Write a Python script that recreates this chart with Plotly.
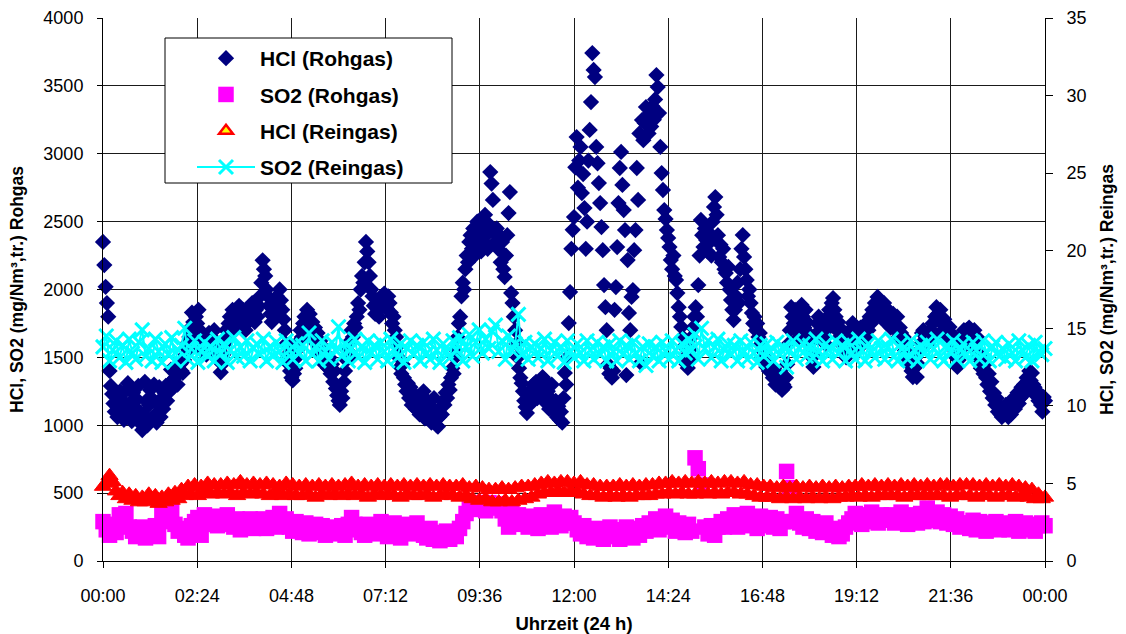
import pandas as pd
import plotly.graph_objects as go

# ---------------- data ----------------
# HCl Rohgas, mg/Nm3 (left axis), one value every 2 minutes, 00:00 ... 24:00
hcl_rohgas = [
    # 00
    2350, 2180, 2020, 1900, 1800, 1400, 1290, 1230, 1160, 1100, 1210, 1060, 1150, 1250, 1080,
    1180, 1040, 1120, 1260, 1310, 1090, 1170, 1030, 1240, 1120, 1060, 1190, 1290, 1100, 1010,
    # 01
    965, 1080, 1320, 1180, 1000, 1150, 1260, 1050, 1190, 1300, 1080, 1020, 1150, 1280, 1060,
    1200, 1120, 1240, 1290, 1180, 1300, 1250, 1410, 1330, 1280, 1350, 1420, 1300, 1380, 1450,
    # 02
    1400, 1385, 1480, 1520, 1600, 1560, 1650, 1720, 1830, 1760, 1700, 1800, 1750, 1850, 1700,
    1620, 1560, 1650, 1600, 1520, 1580, 1680, 1620, 1550, 1640, 1700, 1600, 1520, 1580, 1480,
    # 03
    1390, 1450, 1520, 1600, 1700, 1650, 1750, 1800, 1720, 1850, 1780, 1700, 1820, 1760, 1880,
    1800, 1740, 1850, 1790, 1700, 1820, 1760, 1870, 1800, 1900, 1830, 1760, 1850, 1800, 1880,
    # 04
    1950, 2050, 2215, 2150, 2100, 2000, 1950, 1880, 1820, 1760, 1900, 1850, 1800, 1950, 1880,
    2000, 1920, 1850, 1780, 1700, 1600, 1520, 1450, 1400, 1350, 1330, 1380, 1420, 1500, 1560,
    # 05
    1620, 1700, 1650, 1750, 1800, 1720, 1850, 1780, 1820, 1700, 1760, 1650, 1720, 1600, 1680,
    1550, 1620, 1500, 1580, 1450, 1520, 1480, 1420, 1500, 1380, 1450, 1320, 1400, 1270, 1220,
    # 06
    1180, 1150, 1250, 1200, 1320, 1400, 1480, 1550, 1500, 1620, 1700, 1650, 1750, 1720, 1800,
    1900, 1850, 2000, 2100, 2050, 2200, 2350, 2280, 2200, 2100, 2000, 1950, 1880, 1820, 1900,
    # 07
    1850, 1800, 1900, 1950, 1880, 1970, 1920, 1860, 1950, 1900, 1830, 1750, 1800, 1700, 1650,
    1580, 1500, 1430, 1380, 1450, 1350, 1300, 1250, 1310, 1200, 1280, 1150, 1230, 1180, 1120,
    # 08
    1210, 1150, 1080, 1200, 1100, 1250, 1050, 1120, 1180, 1060, 1140, 1020, 1100, 1200, 1080,
    1000, 990, 1060, 1130, 1080, 1180, 1150, 1240, 1200, 1300, 1260, 1350, 1420, 1380, 1500,
    # 09
    1550, 1650, 1750, 1800, 1950, 2050, 2000, 2150, 2250, 2200, 2350, 2400, 2300, 2450, 2250,
    2380, 2500, 2330, 2420, 2280, 2460, 2350, 2550, 2400, 2300, 2480, 2865, 2780, 2660, 2420,
    # 10
    2350, 2450, 2300, 2400, 2200, 2350, 2150, 2092, 2250, 2400, 2563, 2718, 1974, 1900, 1800,
    1700, 1600, 1500, 1420, 1350, 1310, 1250, 1180, 1134, 1090, 1200, 1150, 1260, 1220, 1300,
    # 11
    1250, 1320, 1200, 1280, 1300, 1250, 1355, 1340, 1200, 1160, 1250, 1120, 1200, 1300, 1150,
    1100, 1180, 1060, 1140, 1040, 1100, 1020, 1200, 1385, 1300, 1500, 1753, 1981, 2300, 2440,
    # 12
    2534, 2900, 3123, 2750, 2950, 3050, 2710, 2850, 2600, 2300, 2500, 2950, 3175, 3381, 3742,
    3617, 3565, 3050, 2930, 2784, 2637, 2460, 2290, 2033, 1870, 1700, 1450, 1380, 1420, 1350,
    # 13
    1400, 1850, 2018, 2313, 2637, 2895, 3013, 2770, 2585, 2438, 1370, 2217, 1827, 1700, 1945,
    1996, 2290, 2438, 2895, 2660, 3150, 1460, 3248, 3100, 3226, 3344, 3270, 3150, 3300, 3200,
    # 14
    3350, 3250, 3400, 3580, 3491, 3300, 3050, 2858, 2733, 2585, 2520, 2438, 2380, 2313, 2217,
    2150, 2250, 2100, 2070, 1974, 1870, 1800, 1724, 1650, 1580, 1500, 1450, 1422, 1480, 1560,
    # 15
    1650, 1720, 1800, 1870, 1800, 2033, 2250, 2512, 2400, 2313, 2450, 2364, 2280, 2420, 2350,
    2250, 2500, 2608, 2681, 2550, 2400, 2240, 2330, 2200, 2300, 2150, 2121, 2050, 2166, 2000,
    # 16
    1922, 1850, 1775, 1850, 1950, 2050, 1900, 2150, 2300, 2401, 2240, 2150, 2070, 1950, 2000,
    1900, 1827, 1750, 1800, 1700, 1750, 1650, 1680, 1600, 1550, 1500, 1480, 1430, 1480, 1400,
    # 17
    1450, 1385, 1350, 1420, 1300, 1385, 1330, 1282, 1350, 1260, 1300, 1282, 1350, 1450, 1600,
    1700, 1870, 1800, 1750, 1850, 1700, 1780, 1650, 1750, 1886, 1800, 1720, 1850, 1760, 1680,
    # 18
    1600, 1550, 1500, 1430, 1520, 1650, 1750, 1800, 1700, 1760, 1650, 1720, 1600, 1700, 1800,
    1850, 1750, 1900, 1937, 1850, 1800, 1700, 1760, 1650, 1600, 1700, 1550, 1620, 1500, 1580,
    # 19
    1650, 1700, 1600, 1753, 1680, 1560, 1620, 1700, 1650, 1720, 1700, 1600, 1680, 1750, 1650,
    1700, 1800, 1750, 1850, 1780, 1900, 1820, 1945, 1880, 1920, 1850, 1780, 1900, 1820, 1750,
    # 20
    1850, 1800, 1720, 1780, 1820, 1750, 1700, 1800, 1650, 1720, 1680, 1600, 1650, 1550, 1500,
    1600, 1450, 1500, 1400, 1355, 1420, 1500, 1355, 1450, 1550, 1600, 1680, 1700, 1620, 1650,
    # 21
    1600, 1680, 1620, 1700, 1750, 1680, 1800, 1870, 1820, 1780, 1850, 1750, 1700, 1780, 1650,
    1700, 1620, 1724, 1680, 1600, 1650, 1550, 1500, 1430, 1480, 1550, 1650, 1600, 1700, 1650,
    # 22
    1700, 1650, 1720, 1600, 1680, 1620, 1700, 1550, 1650, 1500, 1480, 1420, 1500, 1380, 1450,
    1350, 1300, 1380, 1250, 1320, 1200, 1237, 1150, 1200, 1100, 1150, 1080, 1060, 1120, 1080,
    # 23
    1150, 1100, 1060, 1130, 1080, 1160, 1200, 1120, 1180, 1240, 1160, 1200, 1280, 1220, 1300,
    1250, 1350, 1300, 1400, 1330, 1385, 1300, 1280, 1220, 1250, 1180, 1200, 1150, 1100, 1208,
    # 24:00
    1180,
]

# SO2 Rohgas, mg/Nm3 (left axis), one value every 5 minutes
so2_rohgas = [
    290, 230, 190, 270, 210, 340, 290, 350, 250, 220, 180, 200,  # 00
    250, 170, 230, 190, 260, 180, 340, 370, 290, 380, 270, 220,  # 01
    240, 190, 170, 260, 290, 320, 190, 340, 290, 270, 330, 260,  # 02
    320, 280, 340, 270, 250, 310, 230, 290, 250, 310, 240, 300,  # 03
    260, 310, 240, 290, 320, 250, 350, 280, 310, 250, 220, 290,  # 04
    260, 210, 280, 200, 250, 270, 210, 260, 190, 240, 200, 250,  # 05
    210, 260, 190, 270, 320, 270, 230, 210, 190, 270, 220, 200,  # 06
    260, 290, 210, 180, 250, 280, 190, 170, 240, 270, 200, 250,  # 07
    280, 210, 190, 170, 240, 160, 210, 150, 170, 220, 160, 190,  # 08
    180, 240, 290, 350, 390, 410, 430, 380, 420, 370, 430, 390,  # 09
    400, 420, 370, 310, 250, 360, 280, 340, 270, 310, 250, 330,  # 10
    300, 240, 340, 270, 320, 250, 360, 290, 260, 330, 280, 320,  # 11
    280, 230, 200, 260, 180, 230, 170, 240, 190, 160, 220, 250,  # 12
    180, 230, 160, 210, 250, 200, 170, 240, 190, 260, 220, 280,  # 13
    240, 310, 230, 290, 330, 250, 300, 220, 280, 240, 210, 270,  # 14
    220, 760, 680, 560, 250, 200, 260, 190, 250, 290, 250, 310,  # 15
    280, 340, 250, 320, 270, 350, 260, 310, 240, 330, 280, 260,  # 16
    320, 250, 310, 240, 290, 660, 540, 290, 350, 280, 250, 310,  # 17
    240, 290, 220, 270, 210, 280, 230, 190, 240, 180, 200, 250,  # 18
    280, 310, 350, 300, 270, 340, 290, 360, 310, 280, 340, 300,  # 19
    310, 340, 280, 330, 360, 290, 270, 340, 300, 280, 350, 290,  # 20
    390, 330, 300, 360, 290, 340, 280, 330, 270, 310, 250, 280,  # 21
    280, 240, 300, 230, 290, 250, 220, 280, 240, 290, 230, 270,  # 22
    280, 230, 270, 290, 220, 260, 280, 230, 270, 220, 260, 280,  # 23
    260,
]

# HCl Reingas, mg/Nm3 (right axis), one value every 5 minutes
hcl_reingas = [
    4.8, 5.0, 5.5, 5.1, 4.5, 4.2, 4.4, 4.0, 4.3, 3.9, 4.2, 3.8,  # 00
    4.1, 3.8, 4.3, 3.9, 4.2, 3.7, 4.1, 3.8, 4.3, 3.9, 4.4, 4.0,  # 01
    4.6, 4.2, 4.8, 4.3, 4.9, 4.2, 4.8, 4.4, 5.0, 4.3, 4.9, 4.4,  # 02
    4.9, 4.3, 5.0, 4.4, 4.9, 4.2, 5.1, 4.4, 4.9, 4.3, 5.0, 4.4,  # 03
    4.9, 4.3, 5.0, 4.2, 4.9, 4.4, 4.8, 4.2, 5.0, 4.3, 4.9, 4.2,  # 04
    4.8, 4.2, 4.9, 4.3, 4.8, 4.1, 4.9, 4.3, 4.8, 4.2, 4.9, 4.3,  # 05
    4.8, 4.2, 4.9, 4.3, 5.0, 4.2, 4.8, 4.3, 4.9, 4.1, 4.8, 4.3,  # 06
    4.9, 4.2, 4.8, 4.3, 4.9, 4.2, 4.8, 4.1, 4.9, 4.3, 4.8, 4.2,  # 07
    4.9, 4.2, 4.8, 4.3, 4.9, 4.1, 4.8, 4.2, 4.9, 4.3, 4.8, 4.2,  # 08
    4.8, 4.1, 4.9, 4.2, 4.7, 4.0, 4.8, 3.9, 4.7, 4.0, 4.6, 3.8,  # 09
    4.6, 3.8, 4.7, 3.9, 4.6, 3.8, 4.7, 3.9, 4.8, 4.0, 4.8, 4.1,  # 10
    4.9, 4.3, 5.0, 4.4, 5.1, 4.4, 5.0, 4.5, 5.1, 4.4, 5.1, 4.5,  # 11
    5.0, 4.4, 5.1, 4.3, 4.9, 4.2, 4.9, 4.2, 4.8, 4.1, 4.8, 4.2,  # 12
    4.8, 4.1, 4.9, 4.2, 4.8, 4.1, 4.9, 4.2, 4.8, 4.2, 4.9, 4.2,  # 13
    4.9, 4.3, 5.0, 4.3, 5.0, 4.4, 5.1, 4.3, 5.0, 4.4, 5.1, 4.3,  # 14
    5.0, 4.3, 5.1, 4.4, 5.0, 4.3, 5.1, 4.4, 5.0, 4.3, 5.1, 4.4,  # 15
    5.1, 4.4, 5.0, 4.3, 5.1, 4.3, 4.9, 4.2, 4.9, 4.1, 4.8, 4.1,  # 16
    4.8, 4.1, 4.7, 4.0, 4.8, 4.1, 4.7, 4.0, 4.8, 4.1, 4.7, 4.0,  # 17
    4.8, 4.1, 4.7, 4.0, 4.8, 4.1, 4.7, 4.0, 4.8, 4.1, 4.7, 4.1,  # 18
    4.8, 4.2, 4.8, 4.1, 4.9, 4.2, 4.8, 4.1, 4.9, 4.2, 4.8, 4.2,  # 19
    4.9, 4.2, 4.8, 4.2, 4.9, 4.1, 4.8, 4.2, 4.9, 4.2, 4.8, 4.2,  # 20
    4.9, 4.2, 4.8, 4.2, 4.9, 4.2, 4.9, 4.1, 4.8, 4.2, 4.9, 4.2,  # 21
    4.9, 4.2, 4.9, 4.1, 4.8, 4.2, 4.9, 4.2, 4.8, 4.1, 4.9, 4.2,  # 22
    4.8, 4.2, 4.9, 4.1, 4.8, 4.2, 4.7, 4.1, 4.6, 4.0, 4.3, 4.0,  # 23
    4.1,
]

# SO2 Reingas, mg/Nm3 (right axis), one value every 5 minutes
so2_reingas = [
    13.8, 14.5, 12.9, 13.6, 14.2, 13.1, 13.9, 12.8, 14.3, 13.4, 13.0, 14.1,  # 00
    14.9, 13.2, 13.7, 12.9, 14.3, 13.5, 12.8, 14.0, 13.3, 14.4, 12.9, 13.6,  # 01
    13.9, 15.0, 13.0, 13.7, 14.2, 12.8, 13.5, 14.1, 13.2, 13.8, 12.9, 14.3,  # 02
    13.4, 14.0, 12.8, 13.6, 14.4, 13.1, 13.8, 13.2, 14.2, 12.9, 13.7, 14.0,  # 03
    13.3, 14.3, 12.9, 13.8, 13.2, 14.1, 13.5, 12.8, 14.2, 13.6, 13.0, 14.0,  # 04
    13.4, 13.9, 12.9, 14.7, 13.3, 13.8, 12.9, 14.2, 13.5, 13.0, 14.1, 13.6,  # 05
    15.1, 13.2, 14.0, 12.9, 13.7, 14.3, 13.1, 13.8, 12.8, 14.2, 13.4, 13.9,  # 06
    13.0, 14.1, 13.5, 12.9, 14.3, 13.6, 13.1, 14.0, 12.8, 13.7, 14.2, 13.3,  # 07
    13.9, 12.9, 14.1, 13.4, 13.0, 14.3, 13.6, 12.8, 14.0, 13.5, 13.1, 14.2,  # 08
    13.6, 14.4, 12.9, 13.8, 14.6, 13.2, 14.1, 14.9, 13.4, 14.3, 13.7, 14.8,  # 09
    15.2, 13.5, 14.2, 13.0, 14.5, 13.6, 14.0, 15.9, 13.3, 14.1, 13.0, 13.8,  # 10
    14.0, 13.1, 13.7, 14.3, 12.9, 13.6, 14.1, 13.2, 13.8, 12.8, 14.2, 13.5,  # 11
    13.1, 14.0, 13.4, 12.9, 14.2, 13.6, 13.0, 14.1, 13.3, 13.8, 12.9, 14.0,  # 12
    13.5, 12.9, 14.2, 13.3, 13.9, 13.0, 14.1, 13.4, 12.9, 13.8, 12.6, 14.0,  # 13
    13.2, 13.8, 12.9, 14.1, 13.5, 13.0, 14.2, 13.6, 12.9, 14.0, 13.4, 14.3,  # 14
    13.6, 14.6, 13.0, 15.0, 13.7, 14.2, 13.1, 13.8, 14.3, 12.9, 13.6, 14.0,  # 15
    13.3, 13.9, 12.9, 14.2, 13.5, 13.0, 14.1, 13.4, 12.8, 13.9, 13.2, 14.0,  # 16
    13.5, 12.9, 14.1, 13.3, 13.8, 12.5, 13.6, 14.2, 13.0, 13.7, 14.0, 13.2,  # 17
    13.9, 13.1, 14.3, 13.5, 12.9, 14.0, 13.6, 13.0, 14.2, 13.4, 13.9, 12.9,  # 18
    14.1, 13.4, 13.0, 14.3, 13.6, 12.9, 14.0, 13.5, 13.1, 14.2, 13.7, 13.0,  # 19
    13.8, 14.3, 13.2, 12.9, 14.0, 13.5, 13.0, 14.2, 13.6, 12.9, 13.9, 13.4,  # 20
    14.1, 13.0, 13.7, 14.3, 13.2, 12.9, 13.9, 13.5, 14.2, 13.0, 13.6, 14.0,  # 21
    13.3, 12.9, 14.1, 13.6, 13.0, 14.2, 13.5, 12.9, 13.8, 14.1, 13.2, 13.7,  # 22
    13.0, 14.0, 13.4, 12.9, 14.2, 13.6, 13.1, 13.9, 12.9, 14.1, 13.5, 13.3,  # 23
    13.7,
]

day_start = "2000-01-01 00:00"
day_end = "2000-01-02 00:00"
t_2min = pd.date_range(day_start, periods=len(hcl_rohgas), freq="2min")
t_5min = pd.date_range(day_start, periods=len(so2_rohgas), freq="5min")

series_names = ["HCl (Rohgas)", "SO2 (Rohgas)", "HCl (Reingas)", "SO2 (Reingas)"]
x_tick_step_ms = 144 * 60 * 1000  # 02:24

FONT = "Arial, 'Liberation Sans', Helvetica, sans-serif"

fig = go.Figure()

fig.add_trace(go.Scatter(
    x=t_2min, y=hcl_rohgas, name=series_names[0], mode="markers", yaxis="y",
    legendgroup="g1", cliponaxis=False,
    marker=dict(symbol="diamond", size=12.5, color="#000080", line=dict(width=0)),
))
fig.add_trace(go.Scatter(
    x=t_5min, y=so2_rohgas, name=series_names[1], mode="markers", yaxis="y",
    legendgroup="g2", cliponaxis=False,
    marker=dict(symbol="square", size=15.5, color="#FF00FF", line=dict(width=0)),
))
# dense data trace (overlapping triangles look red, as in the original)
fig.add_trace(go.Scatter(
    x=t_5min, y=hcl_reingas, name=series_names[2], mode="markers", yaxis="y2",
    legendgroup="g3", showlegend=False, cliponaxis=False,
    marker=dict(symbol="triangle-up", size=15, color="#FF0000",
                line=dict(width=1, color="#FF0000")),
))
# legend sample: yellow triangle with red border
fig.add_trace(go.Scatter(
    x=[None], y=[None], name=series_names[2], mode="markers", yaxis="y2",
    legendgroup="g3",
    marker=dict(symbol="triangle-up", size=12, color="#FFFF00",
                line=dict(width=2.5, color="#FF0000")),
))
fig.add_trace(go.Scatter(
    x=t_5min, y=so2_reingas, name=series_names[3], mode="lines+markers", yaxis="y2",
    legendgroup="g4", cliponaxis=False,
    line=dict(color="#00FFFF", width=2),
    marker=dict(symbol="x-thin", size=14, color="#00FFFF",
                line=dict(width=3, color="#00FFFF")),
))

L, R, T, B = 103, 81, 18, 73
W, H = 1126, 634
pw, ph = W - L - R, H - T - B

def px_x(x):
    return (x - L) / pw

def px_y(y):
    return (H - B - y) / ph

fig.update_layout(
    width=W, height=H,
    margin=dict(l=L, r=R, t=T, b=B, pad=0),
    paper_bgcolor="white", plot_bgcolor="white",
    font=dict(family=FONT, size=18, color="black"),
    showlegend=True,
    legend=dict(
        x=px_x(192), y=px_y(38), xanchor="left", yanchor="top",
        bgcolor="rgba(0,0,0,0)", borderwidth=0,
        font=dict(family=FONT, size=21, color="black", weight="bold"),
        itemwidth=58, traceorder="grouped", tracegroupgap=6,
        itemclick=False, itemdoubleclick=False,
    ),
    xaxis=dict(
        type="date", range=[day_start, day_end],
        tick0=day_start, dtick=x_tick_step_ms, tickformat="%H:%M",
        showgrid=True, gridcolor="#1a1a1a", gridwidth=1,
        showline=True, linecolor="black", linewidth=1,
        ticks="outside", ticklen=6, tickcolor="black", ticklabelstandoff=12,
        tickfont=dict(size=18),
        title=dict(text="Uhrzeit (24 h)", standoff=12,
                   font=dict(size=18.5, weight="bold")),
        zeroline=False, automargin=False,
    ),
    yaxis=dict(
        range=[0, 4000], dtick=500, tick0=0,
        showgrid=True, gridcolor="#1a1a1a", gridwidth=1,
        showline=True, linecolor="black", linewidth=1,
        ticks="outside", ticklen=5, tickcolor="black", ticklabelstandoff=10,
        tickfont=dict(size=18),
        title=dict(text="HCl, SO2 (mg/Nm³,tr.) Rohgas", standoff=15,
                   font=dict(size=17.5, weight="bold")),
        zeroline=False, automargin=False,
    ),
    yaxis2=dict(
        range=[0, 35], dtick=5, tick0=0, overlaying="y", side="right",
        showgrid=False,
        showline=True, linecolor="black", linewidth=1,
        ticks="outside", ticklen=7, tickcolor="black", ticklabelstandoff=10,
        tickfont=dict(size=18),
        title=dict(text="HCl, SO2 (mg/Nm³,tr.) Reingas", standoff=15,
                   font=dict(size=17.5, weight="bold")),
        zeroline=False, automargin=False,
    ),
    shapes=[dict(
        type="rect", xref="paper", yref="paper", layer="above",
        x0=px_x(165), x1=px_x(452), y0=px_y(183), y1=px_y(38),
        line=dict(color="black", width=1), fillcolor="white",
    )],
)

fig.write_html(
    "out.html",
    config={"displayModeBar": False},
    post_script="document.body.style.margin='0';",
)
